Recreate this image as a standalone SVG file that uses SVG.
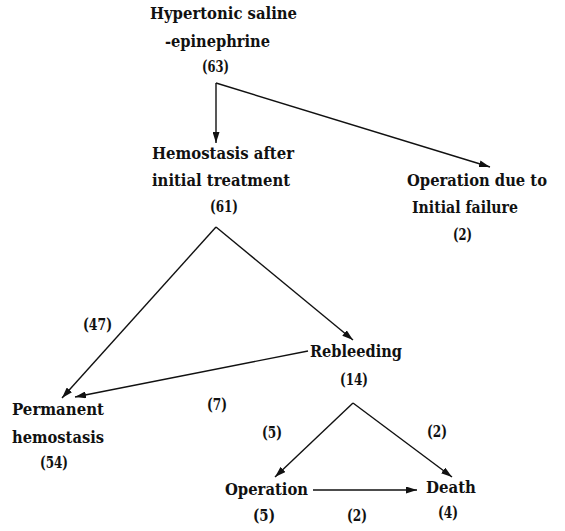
<svg xmlns="http://www.w3.org/2000/svg" width="565" height="531" viewBox="0 0 565 531">
<defs>
<style>
text{font-family:"DejaVu Serif","Liberation Serif",serif;font-weight:bold;font-size:16px;fill:#111}
.c line{stroke:#111;stroke-width:1.4;fill:none}
</style>
<marker id="ah" viewBox="0 0 11 7" refX="11" refY="3.5" markerWidth="11" markerHeight="7" markerUnits="userSpaceOnUse" orient="auto">
<path d="M0,0 L11,3.5 L0,7 Z" fill="#111"/>
</marker>
</defs>
<rect width="565" height="531" fill="#fff"/>
<g id="n-start">
<text x="150" y="19" textLength="147" lengthAdjust="spacingAndGlyphs">Hypertonic saline</text>
<text x="165" y="47" textLength="105" lengthAdjust="spacingAndGlyphs">-epinephrine</text>
<text x="202" y="72" textLength="27" lengthAdjust="spacingAndGlyphs">(63)</text>
</g>
<g id="n-hemostasis">
<text x="152" y="159" textLength="142" lengthAdjust="spacingAndGlyphs">Hemostasis after</text>
<text x="152" y="186" textLength="138" lengthAdjust="spacingAndGlyphs">initial treatment</text>
<text x="210" y="212" textLength="28" lengthAdjust="spacingAndGlyphs">(61)</text>
</g>
<g id="n-opfail">
<text x="407" y="186" textLength="140" lengthAdjust="spacingAndGlyphs">Operation due to</text>
<text x="412" y="213" textLength="106" lengthAdjust="spacingAndGlyphs">Initial failure</text>
<text x="453" y="240" textLength="19" lengthAdjust="spacingAndGlyphs">(2)</text>
</g>
<g id="n-rebleeding">
<text x="310" y="357" textLength="92" lengthAdjust="spacingAndGlyphs">Rebleeding</text>
<text x="340" y="385" textLength="28" lengthAdjust="spacingAndGlyphs">(14)</text>
</g>
<g id="n-permanent">
<text x="12" y="415" textLength="92" lengthAdjust="spacingAndGlyphs">Permanent</text>
<text x="12" y="443" textLength="92" lengthAdjust="spacingAndGlyphs">hemostasis</text>
<text x="40" y="468" textLength="28" lengthAdjust="spacingAndGlyphs">(54)</text>
</g>
<g id="n-operation">
<text x="225" y="495" textLength="83" lengthAdjust="spacingAndGlyphs">Operation</text>
<text x="253" y="521" textLength="22" lengthAdjust="spacingAndGlyphs">(5)</text>
</g>
<g id="n-death">
<text x="426" y="493" textLength="50" lengthAdjust="spacingAndGlyphs">Death</text>
<text x="438" y="518" textLength="20" lengthAdjust="spacingAndGlyphs">(4)</text>
</g>
<g id="labels">
<text x="83" y="330" textLength="29" lengthAdjust="spacingAndGlyphs">(47)</text>
<text x="207" y="410" textLength="20" lengthAdjust="spacingAndGlyphs">(7)</text>
<text x="262" y="438" textLength="20" lengthAdjust="spacingAndGlyphs">(5)</text>
<text x="427" y="437" textLength="20" lengthAdjust="spacingAndGlyphs">(2)</text>
<text x="347" y="521" textLength="20" lengthAdjust="spacingAndGlyphs">(2)</text>
</g>
<g class="c" id="connectors">
<line x1="216" y1="83" x2="216" y2="143" marker-end="url(#ah)"/>
<line x1="216" y1="83" x2="490" y2="167" marker-end="url(#ah)"/>
<line x1="216" y1="227" x2="62" y2="398" marker-end="url(#ah)"/>
<line x1="216" y1="227" x2="353" y2="340" marker-end="url(#ah)"/>
<line x1="308" y1="351" x2="75" y2="397" marker-end="url(#ah)"/>
<line x1="353" y1="403" x2="275" y2="477" marker-end="url(#ah)"/>
<line x1="353" y1="403" x2="452" y2="477" marker-end="url(#ah)"/>
<line x1="313" y1="490" x2="417" y2="490" marker-end="url(#ah)"/>
</g>
</svg>
